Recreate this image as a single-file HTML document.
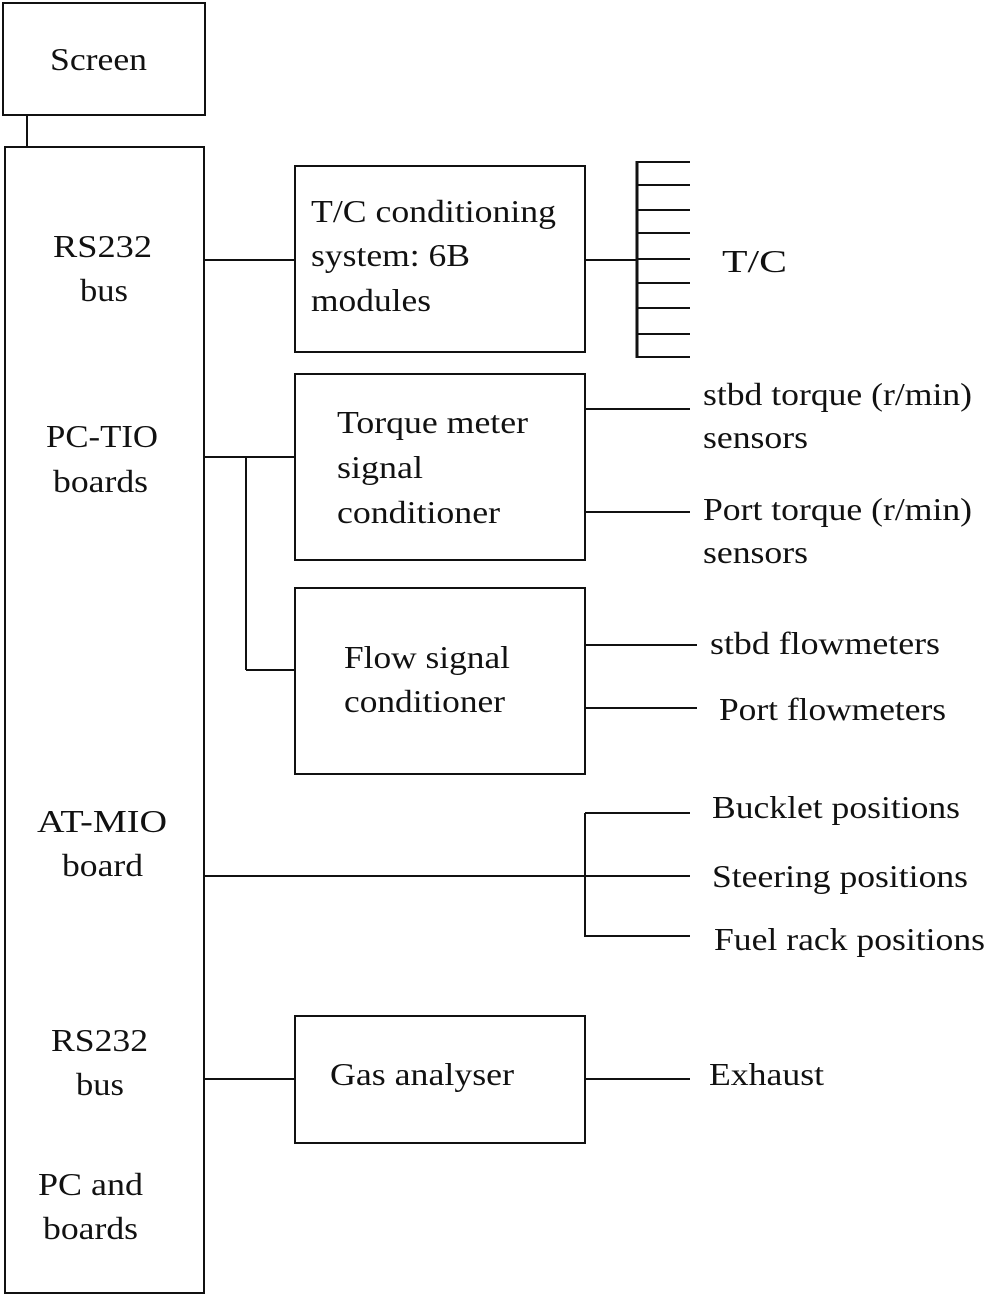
<!DOCTYPE html>
<html><head><meta charset="utf-8"><style>
body{margin:0;background:#fff;}
svg text{font-family:"Liberation Serif",serif;font-size:32px;fill:#111;}
</style></head><body>
<svg width="986" height="1297" xmlns="http://www.w3.org/2000/svg">
<g fill="none" stroke="#111" stroke-width="2">
<rect x="3" y="3" width="202" height="112"/>
<line x1="27" y1="115" x2="27" y2="147"/>
<rect x="5" y="147" width="199" height="1146"/>
<rect x="295" y="166" width="290" height="186"/>
<rect x="295" y="374" width="290" height="186"/>
<rect x="295" y="588" width="290" height="186"/>
<rect x="295" y="1016" width="290" height="127"/>
<line x1="204" y1="260" x2="295" y2="260"/>
<line x1="585" y1="260" x2="637" y2="260"/>
<line x1="637" y1="161" x2="637" y2="358" stroke-width="3"/>
<line x1="637" y1="162" x2="690" y2="162"/>
<line x1="637" y1="185" x2="690" y2="185"/>
<line x1="637" y1="210" x2="690" y2="210"/>
<line x1="637" y1="233" x2="690" y2="233"/>
<line x1="637" y1="259" x2="690" y2="259"/>
<line x1="637" y1="283" x2="690" y2="283"/>
<line x1="637" y1="308" x2="690" y2="308"/>
<line x1="637" y1="334" x2="690" y2="334"/>
<line x1="637" y1="357" x2="690" y2="357"/>
<line x1="204" y1="457" x2="295" y2="457"/>
<line x1="246" y1="457" x2="246" y2="670"/>
<line x1="246" y1="670" x2="295" y2="670"/>
<line x1="585" y1="409" x2="690" y2="409"/>
<line x1="585" y1="512" x2="690" y2="512"/>
<line x1="585" y1="645" x2="697" y2="645"/>
<line x1="585" y1="708" x2="697" y2="708"/>
<line x1="204" y1="876" x2="690" y2="876"/>
<line x1="585" y1="813" x2="585" y2="937"/>
<line x1="585" y1="813" x2="690" y2="813"/>
<line x1="585" y1="936" x2="690" y2="936"/>
<line x1="204" y1="1079" x2="295" y2="1079"/>
<line x1="585" y1="1079" x2="690" y2="1079"/>
</g>
<g>
<text x="50" y="70" textLength="97" lengthAdjust="spacingAndGlyphs">Screen</text>
<text x="53" y="257" textLength="99" lengthAdjust="spacingAndGlyphs">RS232</text>
<text x="80" y="301" textLength="48" lengthAdjust="spacingAndGlyphs">bus</text>
<text x="46" y="447" textLength="112" lengthAdjust="spacingAndGlyphs">PC-TIO</text>
<text x="53" y="492" textLength="95" lengthAdjust="spacingAndGlyphs">boards</text>
<text x="37" y="832" textLength="130" lengthAdjust="spacingAndGlyphs">AT-MIO</text>
<text x="62" y="876" textLength="81" lengthAdjust="spacingAndGlyphs">board</text>
<text x="51" y="1051" textLength="97" lengthAdjust="spacingAndGlyphs">RS232</text>
<text x="76" y="1095" textLength="48" lengthAdjust="spacingAndGlyphs">bus</text>
<text x="38" y="1195" textLength="105" lengthAdjust="spacingAndGlyphs">PC and</text>
<text x="43" y="1239" textLength="95" lengthAdjust="spacingAndGlyphs">boards</text>
<text x="311" y="222" textLength="245" lengthAdjust="spacingAndGlyphs">T/C conditioning</text>
<text x="311" y="266" textLength="159" lengthAdjust="spacingAndGlyphs">system: 6B</text>
<text x="311" y="311" textLength="120" lengthAdjust="spacingAndGlyphs">modules</text>
<text x="722" y="272" textLength="65" lengthAdjust="spacingAndGlyphs">T/C</text>
<text x="337" y="433" textLength="191" lengthAdjust="spacingAndGlyphs">Torque meter</text>
<text x="337" y="478" textLength="86" lengthAdjust="spacingAndGlyphs">signal</text>
<text x="337" y="523" textLength="163" lengthAdjust="spacingAndGlyphs">conditioner</text>
<text x="703" y="405" textLength="269" lengthAdjust="spacingAndGlyphs">stbd torque (r/min)</text>
<text x="703" y="448" textLength="105" lengthAdjust="spacingAndGlyphs">sensors</text>
<text x="703" y="520" textLength="269" lengthAdjust="spacingAndGlyphs">Port torque (r/min)</text>
<text x="703" y="563" textLength="105" lengthAdjust="spacingAndGlyphs">sensors</text>
<text x="344" y="668" textLength="166" lengthAdjust="spacingAndGlyphs">Flow signal</text>
<text x="344" y="712" textLength="161" lengthAdjust="spacingAndGlyphs">conditioner</text>
<text x="710" y="654" textLength="230" lengthAdjust="spacingAndGlyphs">stbd flowmeters</text>
<text x="719" y="720" textLength="227" lengthAdjust="spacingAndGlyphs">Port flowmeters</text>
<text x="712" y="818" textLength="248" lengthAdjust="spacingAndGlyphs">Bucklet positions</text>
<text x="712" y="887" textLength="256" lengthAdjust="spacingAndGlyphs">Steering positions</text>
<text x="714" y="950" textLength="271" lengthAdjust="spacingAndGlyphs">Fuel rack positions</text>
<text x="330" y="1085" textLength="184" lengthAdjust="spacingAndGlyphs">Gas analyser</text>
<text x="709" y="1085" textLength="115" lengthAdjust="spacingAndGlyphs">Exhaust</text>
</g>
</svg>
</body></html>
